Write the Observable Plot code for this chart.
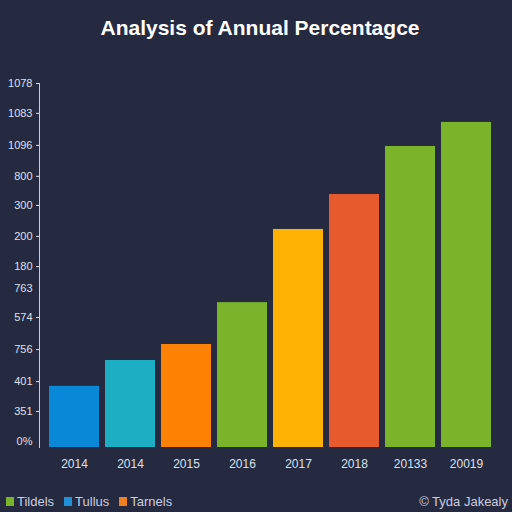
<!DOCTYPE html>
<html><head><meta charset="utf-8">
<script src="https://cdn.jsdelivr.net/npm/d3@7"></script>
<script src="https://cdn.jsdelivr.net/npm/@observablehq/plot@0.6"></script>
<style>
html,body{margin:0;padding:0;background:#262a40;width:512px;height:512px;overflow:hidden;font-family:"Liberation Sans",Arial,sans-serif;}
#title{height:56px;line-height:56px;text-align:center;color:#ffffff;font-weight:bold;font-size:21px;padding-left:8px;}
#chart{height:424px;}
#legend{position:relative;height:32px;color:#c9cde0;font-size:13px;}
#legend .items{position:absolute;left:6px;top:14px;display:flex;gap:10px;align-items:center;}
#legend .item{display:flex;align-items:center;gap:3px;}
#legend .sw{width:8px;height:9px;display:inline-block;}
#legend .cap{position:absolute;right:4px;top:14px;}
</style></head><body>
<div id="title"></div>
<div id="chart"></div>
<div id="legend"><div class="items"></div><div class="cap"></div></div>
<script>
const titleText = "Analysis of Annual Percentagce";
const years = ["2014", "2014 ", "2015", "2016", "2017", "2018", "20133", "20019"];
const values = [168, 239, 283, 398, 599, 695, 827, 893];
const barColors = ["#0a88d8", "#1eaec3", "#fd8204", "#79b42b", "#fdb103", "#e65a2e", "#79b42b", "#79b42b"];
const yTickValues = [1000, 918, 830, 745, 665, 580, 497, 437, 357, 269, 181, 99, 0];
const yTickLabels = ["1078", "1083", "1096", "800", "300", "200", "180", "763", "574", "756", "401", "351", "0%"];
const legendNames = ["Tildels", "Tullus", "Tarnels"];
const legendColors = ["#79b42b", "#1f8fd6", "#f07e22"];
const captionText = "© Tyda Jakealy";

document.getElementById("title").textContent = titleText;

const data = years.map((year, i) => ({year, value: values[i], color: barColors[i]}));
const labelOf = new Map(yTickValues.map((v, i) => [v, yTickLabels[i]]));
const noTick = [437];
const bottomTick = [0];
const withTick = yTickValues.filter(v => !noTick.includes(v) && !bottomTick.includes(v));

const chart = Plot.plot({
  width: 512, height: 424,
  marginTop: 27, marginBottom: 33, marginLeft: 39, marginRight: 10,
  style: {background: "transparent", color: "#dde0ea", fontFamily: "'Liberation Sans', Arial, sans-serif", fontSize: "11px"},
  x: {domain: years, paddingInner: 0.106, paddingOuter: 0.1413, label: null},
  y: {domain: [0, 1000], label: null},
  marks: [
    Plot.barY(data, {x: "year", y: "value", fill: "color"}),
    Plot.frame({anchor: "left", stroke: "#c9cdd9"}),
    Plot.axisY(withTick, {tickSize: 3, tickPadding: 4, tickFormat: v => labelOf.get(v), fontSize: 11, label: null}),
    Plot.axisY(noTick, {tickSize: 0, tickPadding: 7, tickFormat: v => labelOf.get(v), fontSize: 11, label: null}),
    Plot.axisY(bottomTick, {tickSize: 0, tickPadding: 7, dy: -6, tickFormat: v => labelOf.get(v), fontSize: 11, label: null}),
    Plot.axisX({tickSize: 0, tickPadding: 12, fontSize: 12, label: null, tickFormat: d => d.trim()})
  ]
});
document.getElementById("chart").appendChild(chart);

const items = document.querySelector("#legend .items");
legendNames.forEach((n, i) => {
  const it = document.createElement("span");
  it.className = "item";
  const sw = document.createElement("span");
  sw.className = "sw";
  sw.style.background = legendColors[i];
  const t = document.createElement("span");
  t.textContent = n;
  it.appendChild(sw); it.appendChild(t);
  items.appendChild(it);
});
document.querySelector("#legend .cap").textContent = captionText;
</script>
</body></html>
